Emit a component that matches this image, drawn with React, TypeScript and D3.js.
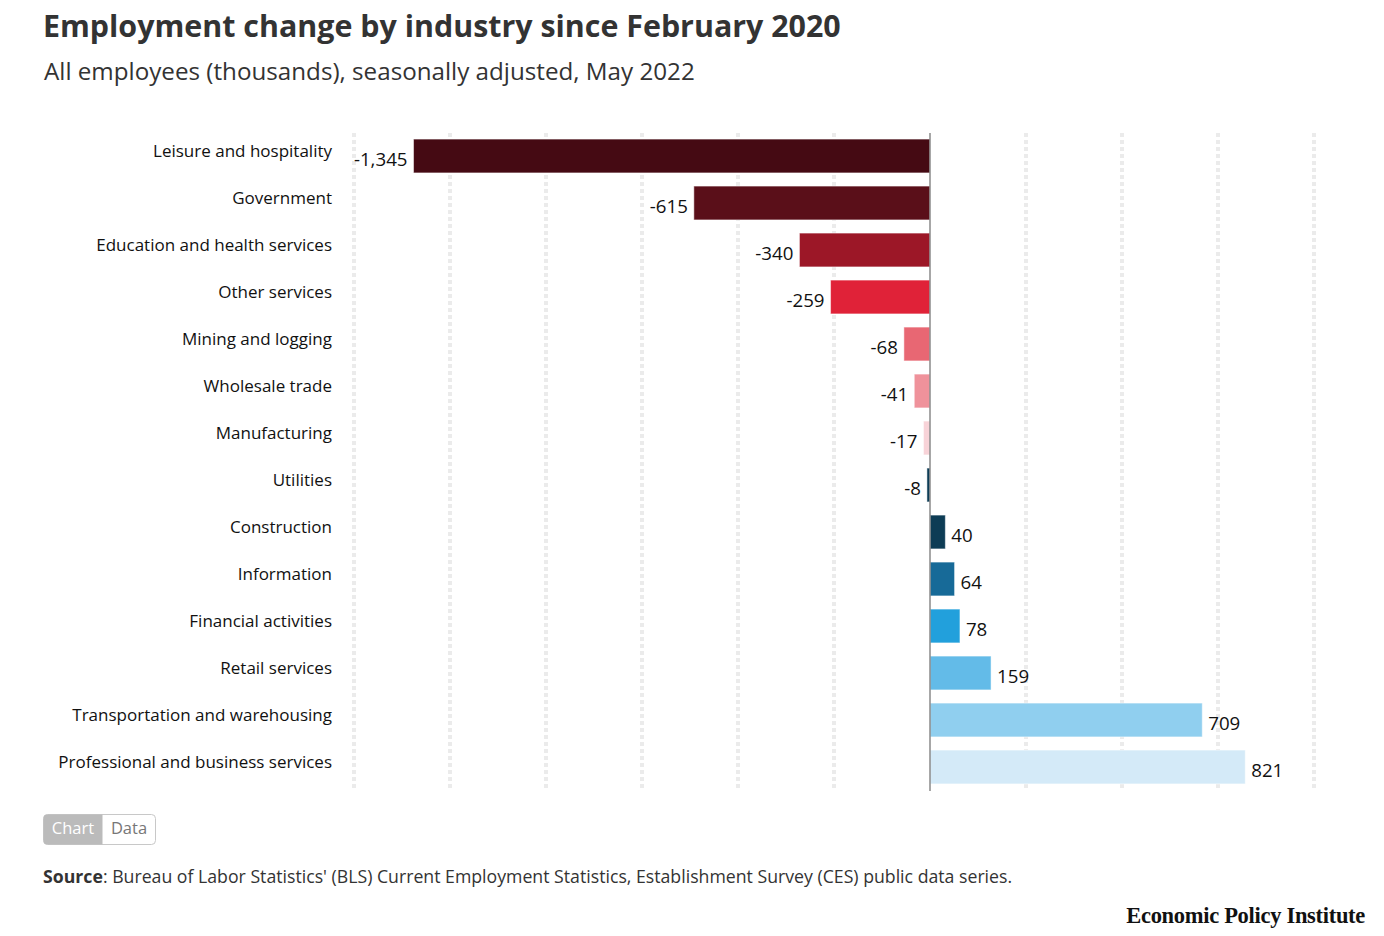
import * as d3 from 'd3'

const industries = [
  'Leisure and hospitality',
  'Government',
  'Education and health services',
  'Other services',
  'Mining and logging',
  'Wholesale trade',
  'Manufacturing',
  'Utilities',
  'Construction',
  'Information',
  'Financial activities',
  'Retail services',
  'Transportation and warehousing',
  'Professional and business services',
]

const changes = [-1345, -615, -340, -259, -68, -41, -17, -8, 40, 64, 78, 159, 709, 821]

const barColors = [
  '#450a13',
  '#5a0f19',
  '#9c1727',
  '#e02238',
  '#e86773',
  '#ef929b',
  '#f8d3d8',
  '#0d3c55',
  '#0d3c55',
  '#176a98',
  '#22a0dc',
  '#63bbe8',
  '#90cfef',
  '#d4eaf8',
]

const gridTicks = [-1500, -1250, -1000, -750, -500, -250, 250, 500, 750, 1000]

const W = 1384
const H = 936
const font = '"Open Sans", Lato, sans-serif'

const locale = d3.formatLocale({ decimal: '.', thousands: ',', grouping: [3], currency: ['$', ''], minus: '-' })
const fmt = locale.format(',')

export default function App() {
  const x = d3.scaleLinear().domain([-1500, 1000]).range([354, 1314])
  const y = d3.scaleBand<string>().domain(industries).range([132.5, 790.5]).paddingInner(0.28).paddingOuter(0.14)

  return (
    <svg
      width={W}
      height={H}
      style={{ position: 'absolute', left: 0, top: 0, background: '#fff' }}
      fontFamily={font}
    >
      {/* titles */}
      <text x={43} y={37} fontSize={30.4} fontWeight={700} fill="#333">
        Employment change by industry since February 2020
      </text>
      <text x={44} y={80} fontSize={24.2} fill="#333">
        All employees (thousands), seasonally adjusted, May 2022
      </text>

      {/* dotted grid */}
      {gridTicks.map(t => (
        <line
          key={t}
          x1={x(t)}
          x2={x(t)}
          y1={133}
          y2={790}
          stroke="#ebebeb"
          strokeWidth={4}
          strokeDasharray="4,3"
        />
      ))}

      {/* bars */}
      {industries.map((name, i) => {
        const v = changes[i]
        const x0 = x(Math.min(0, v))
        const w = Math.abs(x(v) - x(0))
        const yy = y(name)!
        return (
          <g key={name}>
            <rect
              x={x0}
              y={yy}
              width={w}
              height={y.bandwidth()}
              fill={barColors[i]}
              stroke="#fff"
              strokeOpacity={0.5}
              strokeWidth={1}
            />
            <text
              x={332}
              y={yy + y.bandwidth() / 2 - 4}
              textAnchor="end"
              dominantBaseline="middle"
              fontSize={17}
              fill="#111"
            >
              {name}
            </text>
            <text
              x={v < 0 ? x(v) - 6 : x(v) + 6}
              y={yy + y.bandwidth() / 2 + 5}
              textAnchor={v < 0 ? 'end' : 'start'}
              dominantBaseline="middle"
              fontSize={18.7}
              fill="#111"
            >
              {fmt(v)}
            </text>
          </g>
        )
      })}

      {/* zero line */}
      <line x1={x(0)} x2={x(0)} y1={133} y2={791} stroke="#8a8a8a" strokeWidth={1.5} />

      {/* chart / data toggle */}
      <rect x={43.5} y={814.5} width={112} height={30} rx={4} fill="#fff" stroke="#c8c8c8" />
      <path d="M47.5,814.5 H102.5 V844.5 H47.5 A4,4 0 0 1 43.5,840.5 V818.5 A4,4 0 0 1 47.5,814.5 Z" fill="#bbb" />
      <text x={73} y={830} textAnchor="middle" dominantBaseline="middle" fontSize={16.5} fill="#fff">
        Chart
      </text>
      <text x={129} y={830} textAnchor="middle" dominantBaseline="middle" fontSize={16.5} fill="#777">
        Data
      </text>

      {/* source */}
      <text x={43} y={883} fontSize={17.7} fill="#333">
        <tspan fontWeight={700}>Source</tspan>: Bureau of Labor Statistics' (BLS) Current Employment Statistics, Establishment Survey (CES) public data series.
      </text>

      <text
        x={1365}
        y={923}
        textAnchor="end"
        fontSize={22.5}
        fontWeight={700}
        fill="#111"
        fontFamily='"Liberation Serif", "DejaVu Serif", serif'
        letterSpacing={-0.3}
      >
        Economic Policy Institute
      </text>
    </svg>
  )
}
